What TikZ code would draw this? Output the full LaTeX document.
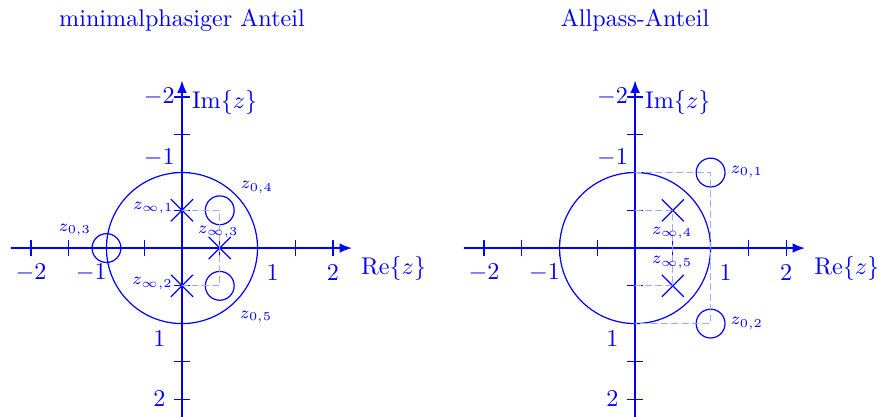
\documentclass[tikz,border=0pt]{standalone}
\usetikzlibrary{arrows.meta,shapes.misc}
\newcommand{\zind}[1]{$z_{\scriptstyle #1}$}
\begin{document}
\begin{tikzpicture}[x=1.1cm,y=1.1cm,line cap=round,line join=round,blue,
  achse/.style={line width=0.6pt,-{Latex[length=1.8mm,width=1.4mm]}},
  strich/.style={line width=0.5pt},
  hilfslinie/.style={blue!35,line width=0.5pt,dash pattern=on 2.5pt off 1.8pt},
  pol/.style={cross out,draw,inner sep=0pt,minimum size=0.3cm,line width=0.5pt},
  nullst/.style={circle,draw,inner sep=0pt,minimum size=0.42cm,line width=0.5pt},
  marke/.style={font=\scriptsize,inner sep=1pt}]
  \useasboundingbox (-2.41,-2.225) rectangle (9.23,3.285);
  % gemeinsame Achsen
  \foreach \dx/\titel in {0/minimalphasiger Anteil,6/Allpass-Anteil} {
   \begin{scope}[shift={(\dx,0)}]
    \node (titel\dx) at (0,3.02) {\titel};
    \draw[achse] (-2.26,0) -- (2.25,0);
    \draw[achse] (0,-2.3) -- (0,2.22);
    \foreach \t in {-2,-1.5,...,2} {
     \draw[strich] (\t,-0.1) -- (\t,0.1);
     \draw[strich] (-0.1,\t) -- (0.1,\t);
    }
    \foreach \x/\lab in {-2/-2,-1.2/-1,1.2/1,2/2}
     \node (rl\dx\lab) at (\x,-0.33) {$\lab$};
    \foreach \y/\lab in {2/-2,1.2/-1,-1.2/1,-2/2}
     \node (il\dx\lab) at (-0.3,\y) {$\lab$};
    \node[anchor=west] (im\dx) at (0.02,1.93) {$\mathrm{Im}\{z\}$};
    \node[anchor=west] (re\dx) at (2.26,-0.27) {$\mathrm{Re}\{z\}$};
    \draw[line width=0.5pt] (0,0) circle[radius=1];
   \end{scope}
  }
  % minimalphasiger Anteil
  \node[pol] (p1) at (0,0.5) {};
  \node[pol] (p2) at (0,-0.5) {};
  \node[pol] (p3) at (0.5,0) {};
  \node[nullst] (n3) at (-1,0) {};
  \node[nullst] (n4) at (0.5,0.5) {};
  \node[nullst] (n5) at (0.5,-0.5) {};
  \draw[hilfslinie] (p1.center) -- (n4.center) -- (p3.center) -- (n5.center) -- (p2.center);
  \node[marke] (lp1) at (-0.38,0.53) {\zind{\infty,1}};
  \node[marke] (lp2) at (-0.39,-0.47) {\zind{\infty,2}};
  \node[marke] (lp3) at (0.48,0.21) {\zind{\infty,3}};
  \node[marke] (ln3) at (-1.42,0.24) {\zind{0,3}};
  \node[marke] (ln4) at (0.99,0.8) {\zind{0,4}};
  \node[marke] (ln5) at (0.98,-0.91) {\zind{0,5}};
  % Allpass-Anteil
  \begin{scope}[shift={(6,0)}]
   \coordinate (a1) at (0,1);
   \coordinate (a2) at (0,-1);
   \coordinate (a3) at (0,0.5);
   \coordinate (a4) at (0,-0.5);
   \node[pol] (p4) at (0.5,0.5) {};
   \node[pol] (p5) at (0.5,-0.5) {};
   \node[nullst] (n1) at (1,1) {};
   \node[nullst] (n2) at (1,-1) {};
   \draw[hilfslinie] (a1) -- (n1.center) -- (n2.center) -- (a2);
   \draw[hilfslinie] (a3) -- (p4.center) -- (p5.center) -- (a4);
   \node[marke] (lp4) at (0.49,0.2) {\zind{\infty,4}};
   \node[marke] (lp5) at (0.49,-0.19) {\zind{\infty,5}};
   \node[marke] (ln1) at (1.48,1.01) {\zind{0,1}};
   \node[marke] (ln2) at (1.48,-1.0) {\zind{0,2}};
  \end{scope}
\end{tikzpicture}
\end{document}
